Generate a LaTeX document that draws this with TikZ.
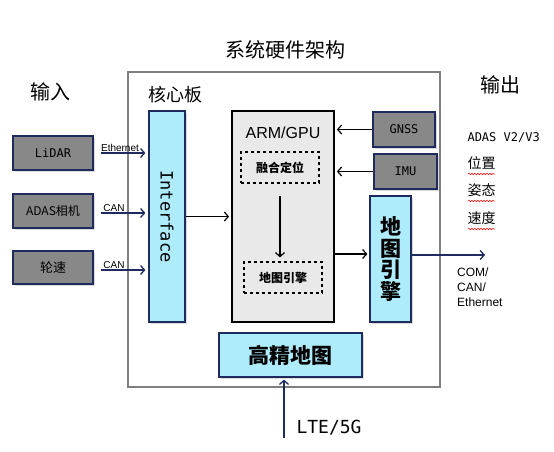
\documentclass[tikz,border=0pt]{standalone}
\usepackage{fontspec}
\setmainfont{Liberation Sans}
\newfontfamily\cjk{Noto Sans CJK SC}
\newfontfamily\mono{DejaVu Sans Mono}
\usetikzlibrary{arrows.meta,shadows,decorations.pathmorphing}
\definecolor{navy}{HTML}{1F2A5E}
\definecolor{boxgray}{HTML}{888888}
\definecolor{boxcyan}{HTML}{AEEBFB}
\definecolor{armgray}{HTML}{E9E9E9}
\tikzset{
  graybox/.style={draw=navy,line width=1.2pt,fill=boxgray,inner sep=0pt,
    drop shadow={opacity=0.3,shadow xshift=1.5pt,shadow yshift=-1.5pt}},
  cyanbox/.style={draw=navy,line width=1.2pt,fill=boxcyan,inner sep=0pt,
    drop shadow={opacity=0.3,shadow xshift=1.5pt,shadow yshift=-1.5pt}},
  dashbox/.style={draw,dashed,line width=1.2pt,inner sep=0pt},
  inarrow/.style={draw=navy,line width=1.3pt,-{Straight Barb[length=4pt,width=9pt]}},
  blkarrow/.style={draw,line width=1.2pt,-{Straight Barb[length=4pt,width=9pt]}},
  wavy/.style={draw=red,line width=0.5pt,decorate,
    decoration={snake,amplitude=0.8pt,segment length=3pt}}
}
\begin{document}
\begin{tikzpicture}[x=1pt,y=-1pt]
\useasboundingbox (0,0) rectangle (554,452);

% titles
\node[font=\cjk\fontsize{20}{24}\selectfont] (title) at (285,50) {系统硬件架构};
\node[font=\cjk\fontsize{20}{24}\selectfont] (inlbl) at (50,92) {输入};
\node[font=\cjk\fontsize{18}{22}\selectfont] (corelbl) at (175,95) {核心板};
\node[font=\cjk\fontsize{20}{24}\selectfont] (outlbl) at (500,85) {输出};

% board
\node[draw=gray,line width=1.5pt,minimum width=312pt,minimum height=315pt] (board) at (284,229.5) {};

% inputs
\node[graybox,minimum width=80pt,minimum height=34pt,font=\mono\fontsize{12}{14}\selectfont] (lidar) at (53,153) {LiDAR};
\node[graybox,minimum width=80pt,minimum height=34pt,font=\cjk\fontsize{12}{14}\selectfont] (adas) at (53,211) {ADAS相机};
\node[graybox,minimum width=80pt,minimum height=33pt,font=\cjk\fontsize{13}{15}\selectfont] (wheel) at (53,267.5) {轮速};

\node[cyanbox,minimum width=36pt,minimum height=211pt] (iface) at (167,216.5) {};
\node[rotate=-90,font=\mono\fontsize{17}{20}\selectfont] (ifacetxt) at (167,216.5) {Interface};

% processor
\node[draw,line width=1.8pt,fill=armgray,minimum width=102pt,minimum height=211pt] (arm) at (283,216.5) {};
\node[font=\fontsize{16}{19}\selectfont] (armlbl) at (283,133) {ARM/GPU};
\node[dashbox,minimum width=78pt,minimum height=31pt,font=\cjk\bfseries\fontsize{12}{14}\selectfont] (fuse) at (280,167.5) {融合定位};
\node[dashbox,minimum width=78pt,minimum height=31pt,font=\cjk\bfseries\fontsize{12}{14}\selectfont] (mapeng) at (283,277.5) {地图引擎};

\node[graybox,minimum width=62pt,minimum height=35pt,font=\mono\fontsize{12}{14}\selectfont] (gnss) at (404,129.5) {GNSS};
\node[graybox,minimum width=63pt,minimum height=35pt,font=\mono\fontsize{12}{14}\selectfont] (imu) at (405.5,171.5) {IMU};
\node[cyanbox,minimum width=41pt,minimum height=126pt,align=center,font=\cjk\bfseries\fontsize{21}{21.5}\selectfont] (mapbox) at (390.5,259) {地\\图\\引\\擎};

\node[cyanbox,minimum width=143pt,minimum height=44pt,font=\cjk\bfseries\fontsize{21}{24}\selectfont] (hdmap) at (290.5,355) {高精地图};

% outputs
\node[anchor=west,font=\mono\fontsize{12}{14}\selectfont] (adasv) at (464,138) {ADAS V2/V3};
\node[anchor=west,font=\cjk\fontsize{14}{16}\selectfont] (pos) at (464,163) {位置};
\node[anchor=west,font=\cjk\fontsize{14}{16}\selectfont] (att) at (464,190) {姿态};
\node[anchor=west,font=\cjk\fontsize{14}{16}\selectfont] (vel) at (464,218) {速度};
\node[anchor=north west,align=left,inner sep=0pt,font=\fontsize{12}{15}\selectfont] (bus) at (457,268) {COM/\\CAN/\\Ethernet};
\coordinate (outend) at (485,255);
\coordinate (ltestart) at (284,438);
\node[anchor=west,font=\mono\fontsize{18}{20}\selectfont] (lte) at (293,428) {LTE/5G};

% connectors
\draw[inarrow,shorten <=7pt,shorten >=3pt] (lidar.east) -- (lidar.east -| iface.west)
  node[midway,above,inner sep=1pt,xshift=-1pt,font=\fontsize{10}{12}\selectfont] {Ethernet};
\draw[inarrow,shorten <=7pt,shorten >=3pt] ([yshift=-2pt]adas.east) -- ([yshift=-2pt]adas.east -| iface.west)
  node[midway,above,inner sep=1pt,xshift=-7pt,font=\fontsize{10}{12}\selectfont] {CAN};
\draw[inarrow,shorten <=7pt,shorten >=3pt] ([yshift=-2.5pt]wheel.east) -- ([yshift=-2.5pt]wheel.east -| iface.west)
  node[midway,above,inner sep=1pt,xshift=-7pt,font=\fontsize{10}{12}\selectfont] {CAN};
\draw[blkarrow,shorten >=2pt] (iface.east) -- (arm.west);
\draw[blkarrow,shorten >=2pt] (gnss.west) -- (gnss.west -| arm.east);
\draw[blkarrow,shorten >=2pt] (imu.west) -- (imu.west -| arm.east);
\draw[blkarrow,shorten <=12pt,shorten >=4pt] (fuse.south) -- (fuse.south |- mapeng.north);
\draw[blkarrow,shorten >=2pt] ([yshift=5pt]mapbox.west -| arm.east) -- ([yshift=5pt]mapbox.west);
\draw[inarrow] ([yshift=4pt]mapbox.east) -- (outend);
\draw[inarrow,shorten >=2pt] (ltestart) -- (ltestart |- hdmap.south);

% spell-check marks
\draw[wavy] ([xshift=4pt,yshift=-1pt]pos.south west) -- ([xshift=-4pt,yshift=-1pt]pos.south east);
\draw[wavy] ([xshift=4pt,yshift=-1pt]att.south west) -- ([xshift=-4pt,yshift=-1pt]att.south east);
\draw[wavy] ([xshift=4pt,yshift=-1pt]vel.south west) -- ([xshift=-4pt,yshift=-1pt]vel.south east);
\end{tikzpicture}
\end{document}
